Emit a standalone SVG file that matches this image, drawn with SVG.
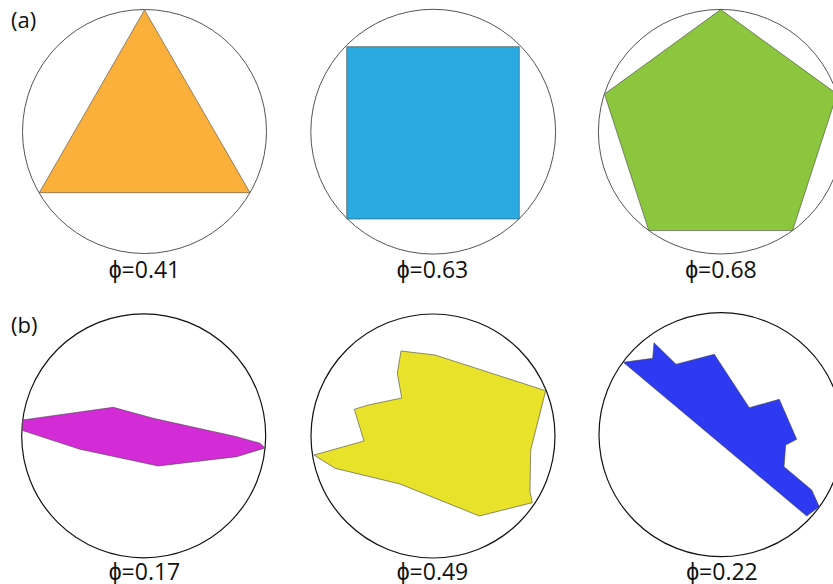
<svg xmlns="http://www.w3.org/2000/svg" width="833" height="584" viewBox="0 0 833 584">
<style>
.bg{fill:#ffffff}
.c1{fill:none;stroke:#555555;stroke-width:1}
.c2{fill:none;stroke:#111111;stroke-width:1.2}
.sh{stroke:#444444;stroke-width:0.6;stroke-linejoin:round}
.lbl{font-family:"Open Sans","Liberation Sans","DejaVu Sans",sans-serif;font-size:22px;fill:#111111}
.phi{font-family:"Open Sans","Liberation Sans","DejaVu Sans",sans-serif;font-size:23px;fill:#111111;text-anchor:middle}
</style>
<rect class="bg" x="0" y="0" width="833" height="584"/>
<text class="lbl" x="11" y="28">(a)</text>
<text class="lbl" x="11" y="333">(b)</text>
<g id="triangle">
<circle class="c1" cx="144.5" cy="131.5" r="122"/>
<polygon class="sh" fill="#FBB03B" points="144.5,10 250,192.7 39.3,192.7"/>
<text class="phi" x="144.5" y="278">ϕ=0.41</text>
</g>
<g id="square">
<circle class="c1" cx="433.2" cy="131.7" r="122.4"/>
<rect class="sh" fill="#29ABE2" x="346.7" y="46.7" width="172.6" height="172.3"/>
<text class="phi" x="432.5" y="278">ϕ=0.63</text>
</g>
<g id="pentagon">
<circle class="c1" cx="720.7" cy="131.7" r="122.3"/>
<polygon class="sh" fill="#8CC63F" points="720.7,9.6 837,94 792.6,230.6 648.8,230.6 604.5,94"/>
<text class="phi" x="721" y="278">ϕ=0.68</text>
</g>
<g id="magenta">
<circle class="c2" cx="143.7" cy="435.8" r="122"/>
<polygon class="sh" fill="#D32CD6" points="22.5,420 113.3,407.3 153.3,418.3 236.7,436.7 260,443.3 265,448 236.7,456.7 158.3,466 80,449.3 22.5,430.5"/>
<text class="phi" x="144.5" y="579.5">ϕ=0.17</text>
</g>
<g id="yellow">
<circle class="c2" cx="433" cy="436" r="122"/>
<polygon class="sh" fill="#E9E22B" points="401,351 435,355 545.7,390.7 530.7,450 530,491.7 532.3,502.7 479.3,516 400,484 335,468.3 314,455 364,441 354.3,409.3 368.3,405 401.7,398 397.3,373.3"/>
<text class="phi" x="432.5" y="579.5">ϕ=0.49</text>
</g>
<g id="blue">
<circle class="c2" cx="721" cy="434.7" r="122"/>
<polygon class="sh" fill="#2E3AF2" points="623.3,362.3 652.7,358.3 654,342.7 676,364.3 714.3,354.3 749.3,407.7 779.3,399.3 796.7,439.3 785.7,445 784,466.7 811.7,490 819.3,506.7 806.7,516"/>
<text class="phi" x="722" y="579.5">ϕ=0.22</text>
</g>
<g id="connectors"></g>
</svg>
